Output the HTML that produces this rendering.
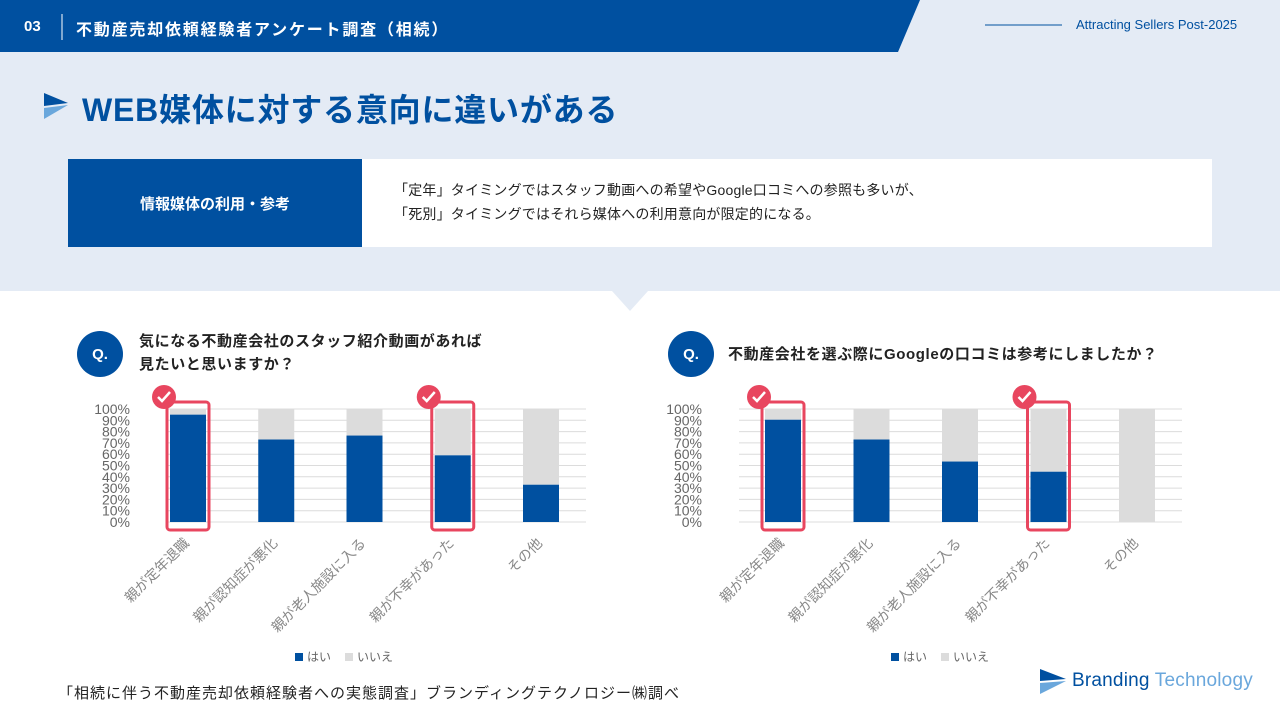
<!DOCTYPE html>
<html><head><meta charset="utf-8"><style>
*{margin:0;padding:0;box-sizing:border-box}
body{width:1280px;height:720px;overflow:hidden;background:#fff;font-family:"Liberation Sans","Noto Sans CJK JP",sans-serif;position:relative}
.abs{position:absolute}
</style></head><body>
<div class="abs" style="left:0;top:0;width:1280px;height:291px;background:#e4ebf5"></div>
<svg class="abs" style="left:0;top:0" width="1280" height="320">
<polygon points="0,0 920,0 898,52 0,52" fill="#0050a0"/>
<line x1="62" y1="14" x2="62" y2="40" stroke="#fff" stroke-width="1"/>
<line x1="985" y1="25" x2="1062" y2="25" stroke="#0050a0" stroke-width="1"/>
<polygon points="612,291 648,291 630,311" fill="#e4ebf5"/>
<polygon points="44,93 68,103 44,106" fill="#0050a0"/><polygon points="44,108 68,105 44,119" fill="#6aa7dc"/>
</svg>
<div class="abs" style="left:24px;top:18px;color:#fff;font-weight:bold;font-size:15px">03</div>
<div class="abs" style="left:76px;top:16px;color:#fff;font-weight:bold;font-size:16px;letter-spacing:1.8px">不動産売却依頼経験者アンケート調査（相続）</div>
<div class="abs" style="left:1076px;top:17px;color:#0050a0;font-size:13px">Attracting Sellers Post-2025</div>
<div class="abs" style="left:82px;top:85px;color:#0050a0;font-weight:bold;font-size:32px;letter-spacing:0.8px">WEB媒体に対する意向に違いがある</div>
<div class="abs" style="left:68px;top:159px;width:294px;height:88px;background:#0050a0;color:#fff;font-weight:bold;font-size:15px;display:flex;align-items:center;justify-content:center">情報媒体の利用・参考</div>
<div class="abs" style="left:362px;top:159px;width:850px;height:88px;background:#fff;color:#222;font-size:14px;line-height:24px;padding:19px 0 0 32px;letter-spacing:0.2px">「定年」タイミングではスタッフ動画への希望やGoogle口コミへの参照も多いが、<br>「死別」タイミングではそれら媒体への利用意向が限定的になる。</div>
<div class="abs" style="left:77px;top:331px;width:46px;height:46px;border-radius:50%;background:#0050a0;color:#fff;font-weight:bold;font-size:15px;display:flex;align-items:center;justify-content:center">Q.</div>
<div class="abs" style="left:139px;top:330px;font-weight:bold;font-size:15px;line-height:23px;color:#222;letter-spacing:0.6px">気になる不動産会社のスタッフ紹介動画があれば<br>見たいと思いますか？</div>
<div class="abs" style="left:668px;top:331px;width:46px;height:46px;border-radius:50%;background:#0050a0;color:#fff;font-weight:bold;font-size:15px;display:flex;align-items:center;justify-content:center">Q.</div>
<div class="abs" style="left:728px;top:343px;font-weight:bold;font-size:15px;color:#222;letter-spacing:0.6px">不動産会社を選ぶ際にGoogleの口コミは参考にしましたか？</div>
<svg id="chart" class="abs" style="left:0;top:0" width="1280" height="720"></svg>
<div class="abs" style="left:58px;top:682px;font-size:15px;color:#222;letter-spacing:1px">「相続に伴う不動産売却依頼経験者への実態調査」ブランディングテクノロジー㈱調べ</div>
<svg class="abs" style="left:1040px;top:669px" width="30" height="26"><polygon points="0,0 26,10 0,12" fill="#0050a0"/><polygon points="0,14 26,12 0,25" fill="#6aa7dc"/></svg>
<div class="abs" style="left:1072px;top:670px;font-size:19px;color:#0050a0;letter-spacing:0.2px">Branding <span style="color:#6aa7dc">Technology</span></div>
<script>
const categories=["親が定年退職","親が認知症が悪化","親が老人施設に入る","親が不幸があった","その他"];
const yesLeft=[95,73,76.5,59,33];
const yesRight=[90.5,73,53.5,44.5,0];
const ticks=[0,10,20,30,40,50,60,70,80,90,100];
const highlighted=[0,3];
const svg=document.getElementById('chart');
const NS='http://www.w3.org/2000/svg';
function mk(t,a){const e=document.createElementNS(NS,t);for(const k in a)e.setAttribute(k,a[k]);svg.appendChild(e);return e;}
function draw(prefix,x0,x1,firstC,step,vals,legendX){
  const y=v=>522-v*1.13;
  const cx=i=>firstC+i*step;
  ticks.forEach(t=>{
    const l=mk('line',{x1:x0,x2:x1,y1:y(t),y2:y(t),stroke:'#dcdcdc','stroke-width':1});
    
    
    const tx=mk('text',{x:x0-37,y:y(t)+5,'text-anchor':'end','font-size':14,fill:'#666','font-family':'Liberation Sans','textLength':0});
    tx.removeAttribute('textLength');
    tx.textContent=t+'%';
    
    
  });
  vals.forEach((v,i)=>{
    const b=mk('rect',{x:cx(i)-18,y:y(100),width:36,height:y(v)-y(100),fill:'#dcdcdc'});
    
    
    const a=mk('rect',{x:cx(i)-18,y:y(v),width:36,height:522-y(v),fill:'#0050a0'});
    
    
    const lb=mk('text',{x:0,y:0,'text-anchor':'end','font-size':14,fill:'#888','font-family':'Liberation Sans,Noto Sans CJK JP,sans-serif',transform:`translate(${cx(i)+2},${544}) rotate(-45)`});
    lb.textContent=categories[i];
    
    
  });
  highlighted.forEach(i=>{
    const r=mk('rect',{x:cx(i)-21,y:402,width:42,height:128,rx:3,fill:'none',stroke:'#e8465f','stroke-width':3});
    
    
    const c=mk('circle',{cx:cx(i)-24,cy:397,r:12,fill:'#e8465f'});
    
    
    mk('polyline',{points:`${cx(i)-30},397 ${cx(i)-26},401 ${cx(i)-18},392`,fill:'none',stroke:'#fff','stroke-width':2.5});
  });
  const lx=legendX;
  mk('rect',{x:lx,y:653,width:8,height:8,fill:'#0050a0'});
  const t1=mk('text',{x:lx+12,y:661,'font-size':12,fill:'#666','font-family':'Noto Sans CJK JP,sans-serif'});t1.textContent='はい';
  
  
  mk('rect',{x:lx+50,y:653,width:8,height:8,fill:'#dcdcdc'});
  const t2=mk('text',{x:lx+62,y:661,'font-size':12,fill:'#666','font-family':'Noto Sans CJK JP,sans-serif'});t2.textContent='いいえ';
  
  
}
draw('left-chart',167,586,188,88.25,yesLeft,295);
draw('right-chart',739,1182,783,88.5,yesRight,891);
</script>
</body></html>
